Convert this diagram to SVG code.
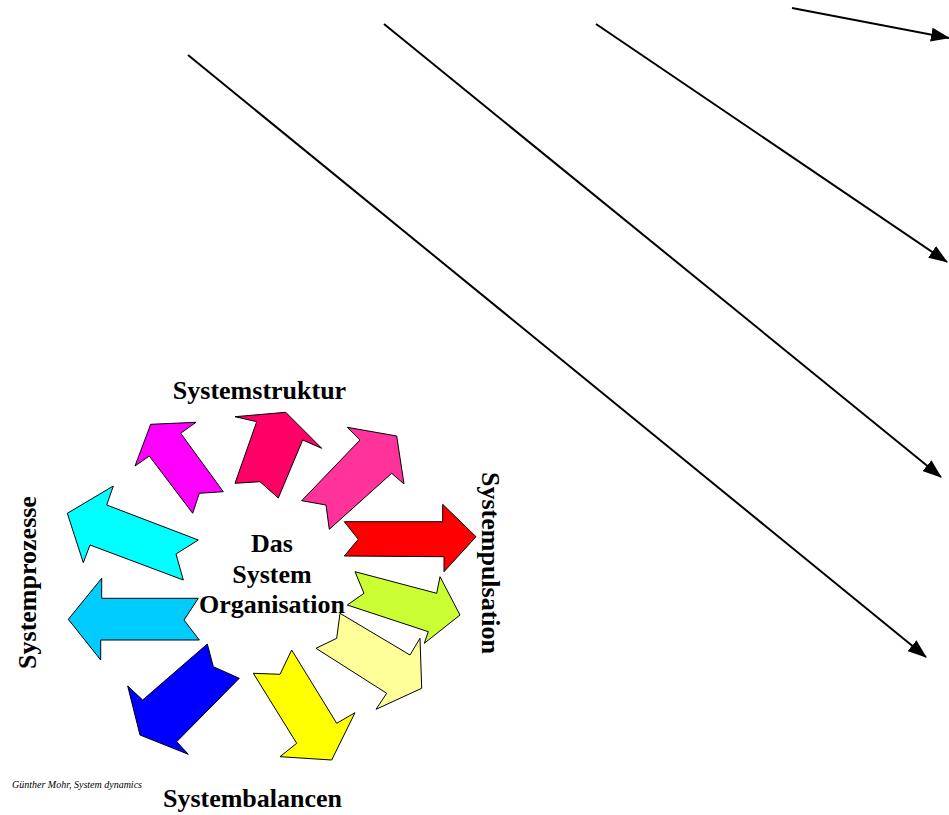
<svg xmlns="http://www.w3.org/2000/svg" width="949" height="815" viewBox="0 0 949 815">
  <style>
    .blk { stroke: #000; stroke-width: 1; stroke-linejoin: miter; }
    .lbl { font-family: "Liberation Serif", "Times New Roman", serif; font-weight: bold; font-size: 26px; fill: #000; }
    .credit { font-family: "Liberation Serif", "Times New Roman", serif; font-style: italic; font-size: 10px; fill: #000; }
    .conn { stroke: #000; stroke-width: 2; fill: none; }
  </style>
  <defs>
    <marker id="head" markerUnits="userSpaceOnUse" markerWidth="20" markerHeight="14" refX="18" refY="7" orient="auto">
      <path d="M0,0 L19,7 L0,14 z" fill="#000"/>
    </marker>
  </defs>
  <rect width="949" height="815" fill="#fff"/>

  <!-- long diagonal pointers -->
  <g id="connectors">
    <line class="conn" x1="792" y1="8" x2="949" y2="38" marker-end="url(#head)"/>
    <line class="conn" x1="596" y1="24" x2="947" y2="262" marker-end="url(#head)"/>
    <line class="conn" x1="384" y1="24" x2="941" y2="477" marker-end="url(#head)"/>
    <line class="conn" x1="188" y1="55" x2="926" y2="657" marker-end="url(#head)"/>
  </g>

  <!-- ring of notched arrows around the centre -->
  <g id="arrow-magenta">
    <polygon class="blk" fill="#FF00FF" points="150.7,424.3 196,422.3 180.7,433.3 223.3,491.7 199.3,493.3 192.7,513.3 149.3,456 135,466"/>
  </g>
  <g id="arrow-crimson">
    <polygon class="blk" fill="#FF0066" points="235,416.7 285.7,412.3 321.7,448.3 302.7,440 278.3,498 260,481.7 235,483.3 256.7,421.7"/>
  </g>
  <g id="arrow-pink">
    <polygon class="blk" fill="#FF3399" points="301.7,500.7 360,440 347.3,427.3 396.7,436 404,484 391.7,473.3 329.3,529.3 326,505"/>
  </g>
  <g id="arrow-red">
    <polygon class="blk" fill="#FF0000" points="344.3,521.7 442.7,521.7 442.7,504.3 476,536.7 444,571.7 444,556.7 344.3,556 358.3,539.3"/>
  </g>
  <g id="arrow-lime">
    <polygon class="blk" fill="#CCFF33" points="355,571.7 436.7,593.3 440,576.7 460,615 424.3,643.3 428.3,631.7 347.3,605 364,593.3"/>
  </g>
  <g id="arrow-paleyellow">
    <polygon class="blk" fill="#FFFF99" points="340,613.3 410,655 420,638.3 421.7,688.3 376,709.3 386.7,693.3 316,648.3 336.7,638.3"/>
  </g>
  <g id="arrow-yellow">
    <polygon class="blk" fill="#FFFF00" points="253.3,673.3 280,674.3 291.7,650 336.7,723.3 355,712.7 331.7,760 280,756.7 296.7,743.3"/>
  </g>
  <g id="arrow-blue">
    <polygon class="blk" fill="#0000FF" points="207.3,644 213.3,666.7 239.3,678.3 176.7,741.7 188.3,754.3 140,735 127.7,686 142.7,700"/>
  </g>
  <g id="arrow-skyblue">
    <polygon class="blk" fill="#00CCFF" points="198.3,598.3 101.7,598.3 101.7,578.3 68.3,619.3 100.7,660 100.7,640 199.3,640 184,620"/>
  </g>
  <g id="arrow-cyan">
    <polygon class="blk" fill="#00FFFF" points="67.3,513.3 113.3,486 106.7,505 198.3,540 176,554 183.3,580 90,545 83.3,562.7"/>
  </g>

  <!-- labels -->
  <g id="label-center">
    <text class="lbl" text-anchor="middle" x="272" y="552">Das</text>
    <text class="lbl" text-anchor="middle" x="272" y="583">System</text>
    <text class="lbl" text-anchor="middle" x="272" y="613">Organisation</text>
  </g>
  <g id="label-top">
    <text class="lbl" text-anchor="middle" x="259.5" y="399">Systemstruktur</text>
  </g>
  <g id="label-right">
    <text class="lbl" text-anchor="middle" transform="translate(482,563) rotate(90)">Systempulsation</text>
  </g>
  <g id="label-left">
    <text class="lbl" text-anchor="middle" transform="translate(36,582.5) rotate(-90)">Systemprozesse</text>
  </g>
  <g id="label-bottom">
    <text class="lbl" text-anchor="middle" x="252.5" y="807">Systembalancen</text>
  </g>
  <g id="credit">
    <text class="credit" x="12" y="788">Günther Mohr, System dynamics</text>
  </g>
</svg>
